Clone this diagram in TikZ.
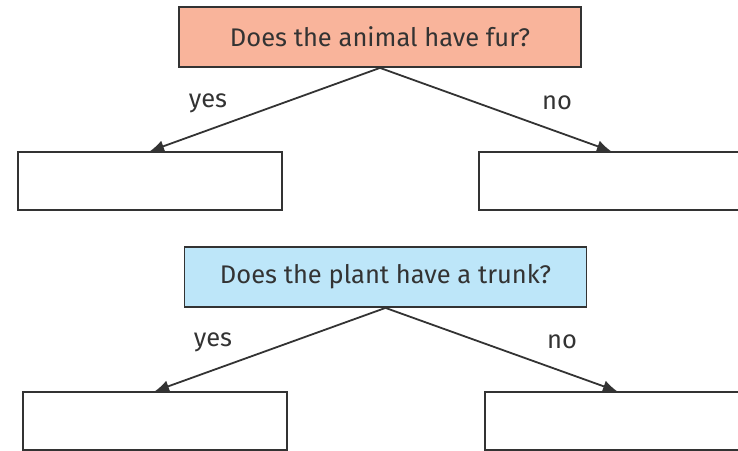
\documentclass[tikz,border=0pt]{standalone}
\usepackage{fontspec}
\setmainfont{Fira Sans}
\usetikzlibrary{arrows.meta}
\definecolor{salmon}{HTML}{F9B49B}
\definecolor{skyb}{HTML}{BDE6F9}
\definecolor{ink}{HTML}{333333}
\tikzset{
  qbox/.style={draw=ink, line width=1.8pt, minimum width=402pt, minimum height=60pt, inner sep=0pt, text=ink, font=\fontsize{25.5}{30}\selectfont},
  abox/.style={draw=ink, line width=1.8pt, fill=white, minimum width=264pt, minimum height=58pt, inner sep=0pt},
  lbl/.style={text=ink, font=\fontsize{25.5}{30}\selectfont, inner sep=0pt},
  conn/.style={draw=ink, line width=1.8pt, -{Latex[length=14pt,width=12pt]}}
}
\begin{document}
\begin{tikzpicture}[x=1pt,y=-1pt]
\useasboundingbox (0,0) rectangle (738,450);
\clip (0,0) rectangle (738,450);
\node[qbox, fill=salmon] (q1) at (380,37) {Does the animal have fur?};
\node[abox] (a1) at (150,181) {};
\node[abox] (b1) at (611,181) {};
\draw[conn] (q1.south) -- (a1.north);
\draw[conn] (q1.south) -- (b1.north);
\node[lbl] (y1) at (208,103) {yes};
\node[lbl] (n1) at (557,103) {no};
\node[qbox, fill=skyb] (q2) at (385.5,277) {Does the plant have a trunk?};
\node[abox] (a2) at (155,421) {};
\node[abox] (b2) at (617,421) {};
\draw[conn] (q2.south) -- (a2.north);
\draw[conn] (q2.south) -- (b2.north);
\node[lbl] (y2) at (213,342) {yes};
\node[lbl] (n2) at (562,342) {no};
\end{tikzpicture}
\end{document}
